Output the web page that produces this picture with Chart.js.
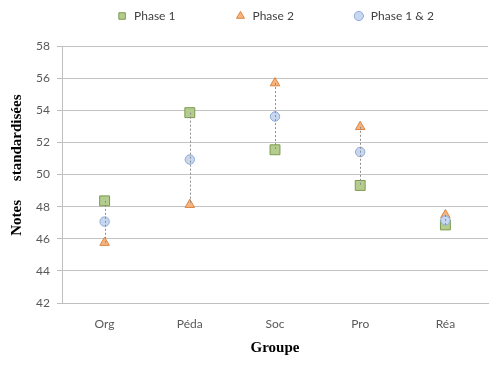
<!DOCTYPE html>
<html>
<head>
<meta charset="utf-8">
<script src="https://cdn.jsdelivr.net/npm/chart.js@4/dist/chart.umd.min.js"></script>
<style>
  html, body { margin: 0; padding: 0; background: #fff; }
  #wrap { width: 500px; height: 365px; }
</style>
</head>
<body>
<div id="wrap"><canvas id="chart" width="500" height="365"></canvas></div>
<script>
// Données
const groupes = ['Org', 'Péda', 'Soc', 'Pro', 'Réa'];
const phase1 = [48.36, 53.85, 51.54, 49.32, 46.86];
const phase2 = [45.76, 48.12, 55.69, 52.97, 47.48];
const phase12 = [47.07, 50.93, 53.61, 51.40, 47.14];
const yTicks = [42, 44, 46, 48, 50, 52, 54, 56, 58];

const tickFont = { family: 'Lato', size: 12 };
const titleFont = { family: 'Liberation Serif', size: 15, weight: 'bold' };
const pad = '\u2003\u2003\u2003\u2003\u2003'; // espace entre les entrées de légende

// Lignes pointillées entre min et max de chaque groupe
const rangeLines = {
    id: 'rangeLines',
    afterDatasetsDraw(chart) {
        const { ctx, scales: { x, y } } = chart;
        ctx.save();
        ctx.strokeStyle = '#8c8c8c';
        ctx.lineWidth = 1;
        ctx.setLineDash([2, 2]);
        groupes.forEach((g, i) => {
            const vals = [phase1[i], phase2[i], phase12[i]];
            const px = Math.round(x.getPixelForValue(i)) + 0.5;
            ctx.beginPath();
            ctx.moveTo(px, y.getPixelForValue(Math.max(...vals)));
            ctx.lineTo(px, y.getPixelForValue(Math.min(...vals)));
            ctx.stroke();
        });
        ctx.restore();
    }
};

new Chart(document.getElementById('chart'), {
    type: 'line',
    data: {
        labels: groupes,
        datasets: [
            {
                label: 'Phase 1',
                data: phase1,
                showLine: false,
                pointStyle: 'rect',
                pointRadius: 7,
                backgroundColor: '#b4cd8e',
                borderColor: '#7c9a4e',
                borderWidth: 1,
                order: 3
            },
            {
                label: 'Phase 2',
                data: phase2,
                showLine: false,
                pointStyle: 'triangle',
                pointRadius: 5.5,
                backgroundColor: '#f8b47e',
                borderColor: '#d98544',
                borderWidth: 1,
                order: 2
            },
            {
                label: 'Phase 1 & 2',
                data: phase12,
                showLine: false,
                pointStyle: 'circle',
                pointRadius: 4.7,
                backgroundColor: '#c8d7f0',
                borderColor: '#8eaad8',
                borderWidth: 1,
                order: 1
            }
        ]
    },
    options: {
        responsive: false,
        animation: false,
        layout: { padding: { top: -4, right: 12, bottom: 0, left: 0 } },
        plugins: {
            tooltip: { enabled: false },
            title: { display: true, text: ' ', padding: 0, font: { size: 14, lineHeight: 1 } },
            legend: {
                position: 'top',
                fullSize: false,
                weight: 3000,
                labels: {
                    usePointStyle: true,
                    boxWidth: 12,
                    boxHeight: 6.5,
                    padding: 14,
                    color: '#404040',
                    font: { family: 'Lato', size: 12 },
                    sort: (a, b) => a.datasetIndex - b.datasetIndex,
                    generateLabels(chart) {
                        const items = Chart.defaults.plugins.legend.labels.generateLabels(chart);
                        items.forEach(it => { if (it.datasetIndex < 2) it.text += pad; });
                        return items;
                    }
                }
            }
        },
        scales: {
            x: {
                offset: true,
                grid: { display: false },
                border: { display: true, color: '#bfbfbf', width: 1 },
                ticks: { color: '#595959', font: tickFont, padding: 6 },
                title: { display: true, text: 'Groupe', color: '#000', font: titleFont, padding: { top: 0, bottom: 8 } },
                afterFit(scale) { scale.height = 62; }
            },
            y: {
                min: 42,
                max: 58,
                afterBuildTicks(scale) { scale.ticks = yTicks.map(v => ({ value: v })); },
                grid: { color: '#c3c3c3', lineWidth: 1, tickLength: 5, tickColor: '#bfbfbf' },
                border: { display: true, color: '#bfbfbf', width: 1 },
                ticks: { color: '#595959', font: tickFont, padding: 7 },
                title: {
                    display: true,
                    text: '\u00a0\u00a0\u00a0\u00a0\u00a0Notes\u00a0\u00a0\u00a0\u00a0\u00a0standardisées',
                    color: '#000',
                    font: titleFont,
                    padding: { top: 8, bottom: 0 }
                },
                afterFit(scale) { scale.width = 62; }
            }
        }
    },
    plugins: [rangeLines]
});
</script>
</body>
</html>
